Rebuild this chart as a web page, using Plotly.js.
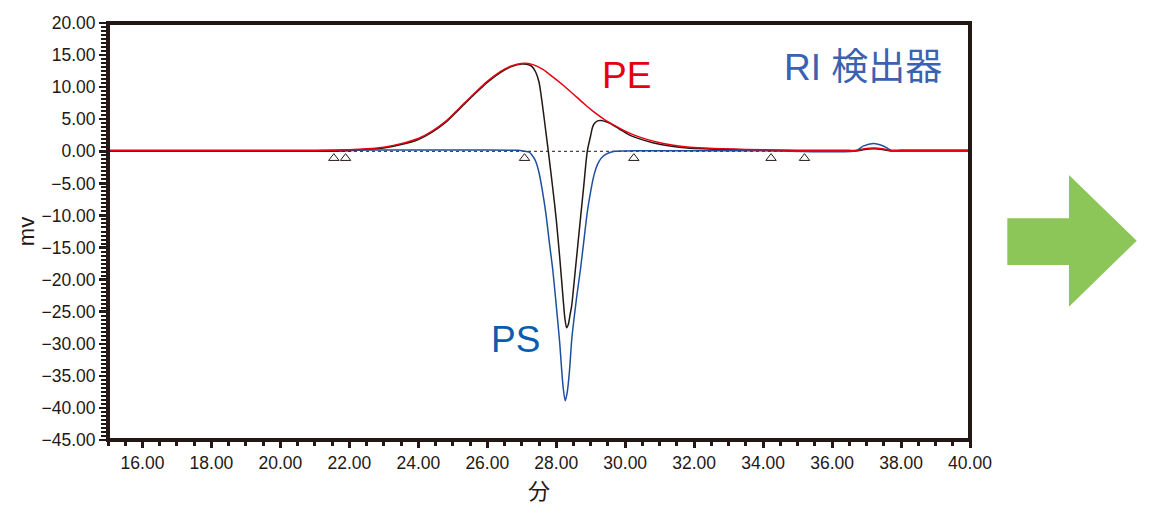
<!DOCTYPE html>
<html>
<head>
<meta charset="utf-8">
<script src="https://cdn.plot.ly/plotly-3.0.1.min.js"></script>
<style>html,body{margin:0;padding:0;background:#fff;}#chart{width:1150px;height:513px;}</style>
</head>
<body>
<div id="chart"></div>
<script>
// PE (red) trace
const peX = [15,16,17,18,19,20,21,21.5,22,22.5,23,23.5,24,24.4,24.8,25.2,25.6,26.0,26.4,26.7,27.0,27.3,27.6,27.9,28.2,28.5,28.8,29.1,29.4,29.7,30.0,30.3,30.6,31.0,31.4,31.8,32.3,32.8,33.5,34.5,35.5,36.5,36.7,36.9,37.2,37.5,37.7,38,39,40];
const peY = [0.15,0.15,0.15,0.15,0.15,0.15,0.15,0.17,0.25,0.4,0.65,1.2,2.0,3.15,4.7,6.8,8.9,10.9,12.5,13.3,13.7,13.55,12.8,11.6,10.3,8.9,7.45,6.1,4.95,4.0,3.15,2.45,1.9,1.35,0.95,0.67,0.5,0.4,0.3,0.2,0.17,0.15,0.15,0.35,0.5,0.35,0.1,0.1,0.1,0.1];

// PE + PS (black) trace
const mixX = [15,16,17,18,19,20,21,21.5,22,22.5,23,23.5,24,24.4,24.8,25.2,25.6,26.0,26.4,26.7,27.0,27.2,27.3,27.4,27.5,27.6,27.7,27.8,27.9,28.0,28.1,28.2,28.25,28.3,28.35,28.4,28.45,28.5,28.6,28.7,28.8,28.9,29.0,29.05,29.1,29.2,29.3,29.45,29.6,29.85,30.1,30.35,30.8,31.3,31.8,32.75,33.7,35,36.7,36.9,37.2,37.5,37.7,38,39,40];
const mixY = [0,0,0,0,0,0,0,0.02,0.1,0.28,0.52,1.05,1.85,3.0,4.55,6.65,8.75,10.75,12.35,13.2,13.6,13.5,13.2,12.4,10.8,7.2,3.0,-1.3,-5.8,-10.6,-16.5,-23,-26,-27.5,-27,-25.5,-24,-21.4,-16,-10.6,-5.3,0,2.5,3.7,4.3,4.75,4.8,4.6,4.25,3.4,2.6,2.05,1.35,0.83,0.5,0.3,0.2,0.1,0.05,0.25,0.4,0.25,0.05,0.05,0.05,0.05];

// PS (blue) trace
const psX = [15,18,21,22,24,26,26.9,27.0,27.1,27.2,27.3,27.4,27.5,27.6,27.7,27.8,27.9,28.0,28.1,28.15,28.2,28.26,28.32,28.38,28.45,28.5,28.6,28.7,28.8,28.9,29.0,29.1,29.2,29.3,29.4,29.5,29.7,30.0,30.5,32,34,36.7,36.9,37.2,37.5,37.7,38,39,40];
const psY = [0.1,0.1,0.1,0.2,0.2,0.2,0.15,0.1,0.0,-0.1,-0.6,-1.5,-3.3,-6.2,-9.7,-14.2,-18.5,-24,-29.8,-33.5,-36.8,-38.9,-37.5,-34.5,-29.3,-26.8,-22.4,-18.5,-14,-9.5,-6.2,-3.6,-2.0,-1.1,-0.6,-0.3,0.0,0.05,0.1,0.1,0.1,0.1,0.8,1.2,0.8,0.2,0.2,0.2,0.2];

// integration baseline and peak markers
const baseX = [15, 36.7];
const baseY = [0, 0];
const markX = [21.55, 21.89, 27.08, 30.25, 34.23, 35.2];
const markY = [-1.07, -1.07, -1.07, -1.07, -1.07, -1.07];

// labels
const xTitle = '分';
const yTitle = 'mv';
const labelPE = 'PE';
const labelPS = 'PS';
const labelRI = 'RI 検出器';

const INK = '#231815';
const FONT = 'Liberation Sans, Arial, Helvetica, sans-serif';

const traces = [
  {x: baseX, y: baseY, mode: 'lines', line: {color: INK, width: 1, dash: 'dot'}, hoverinfo: 'skip'},
  {x: mixX, y: mixY, mode: 'lines', line: {color: INK, width: 1.5, shape: 'spline', smoothing: 0.7}},
  {x: psX, y: psY, mode: 'lines', line: {color: '#1d4f9f', width: 1.5, shape: 'spline', smoothing: 0.7}},
  {x: peX, y: peY, mode: 'lines', line: {color: '#e60012', width: 1.5, shape: 'spline', smoothing: 0.7}},
  {x: markX, y: markY, mode: 'markers', marker: {symbol: 'triangle-up-open', size: 9, color: INK, line: {width: 1, color: INK}}}
];

const layout = {
  width: 1150, height: 513,
  margin: {l: 108, r: 180, t: 23, b: 73},
  paper_bgcolor: '#fff', plot_bgcolor: '#fff',
  showlegend: false,
  font: {family: FONT, color: INK, size: 17.5},
  xaxis: {
    range: [15, 40], dtick: 2, tick0: 16, tickformat: '.2f',
    ticks: 'outside', ticklen: 7, tickwidth: 3, tickcolor: INK,
    minor: {dtick: 0.5, tick0: 15, ticks: 'outside', ticklen: 5, tickwidth: 3, tickcolor: INK},
    showgrid: false, zeroline: false, showline: false, automargin: true,
    tickfont: {family: FONT, size: 17.5, color: INK},
    title: {text: xTitle, font: {family: 'Noto Sans CJK JP', size: 22, color: INK}, standoff: 4}
  },
  yaxis: {
    range: [-45, 20], dtick: 5, tick0: 0, tickformat: '.2f',
    ticks: 'outside', ticklen: 8, tickwidth: 2.5, tickcolor: INK,
    minor: {dtick: 0.625, tick0: 0, ticks: 'outside', ticklen: 6, tickwidth: 2, tickcolor: INK},
    showgrid: false, zeroline: false, showline: false,
    tickfont: {family: FONT, size: 17.5, color: INK},
    title: {text: yTitle, font: {family: FONT, size: 22, color: INK}, standoff: 0}
  },
  shapes: [
    {type: 'rect', xref: 'paper', yref: 'paper', x0: 0, x1: 1, y0: 0, y1: 1, line: {color: INK, width: 4}, layer: 'above'},
    {type: 'path', xref: 'paper', yref: 'paper',
     path: 'M 1.0433 0.5317 L 1.1148 0.5317 L 1.1148 0.6355 L 1.1934 0.4779 L 1.1148 0.3197 L 1.1148 0.4197 L 1.0433 0.4197 Z',
     fillcolor: '#8cc558', line: {width: 0}}
  ],
  annotations: [
    {x: 30.05, y: 11.8, xref: 'x', yref: 'y', text: labelPE, showarrow: false, font: {family: FONT, size: 37, color: '#e60012'}},
    {x: 26.83, y: -29.3, xref: 'x', yref: 'y', text: labelPS, showarrow: false, font: {family: FONT, size: 37, color: '#0a5cae'}},
    {x: 36.91, y: 13.1, xref: 'x', yref: 'y', text: labelRI, showarrow: false, font: {family: 'Liberation Sans, Noto Sans CJK JP, sans-serif', size: 37, color: '#3a62b0'}}
  ]
};

Plotly.newPlot('chart', traces, layout, {displayModeBar: false, staticPlot: true});
</script>
</body>
</html>
